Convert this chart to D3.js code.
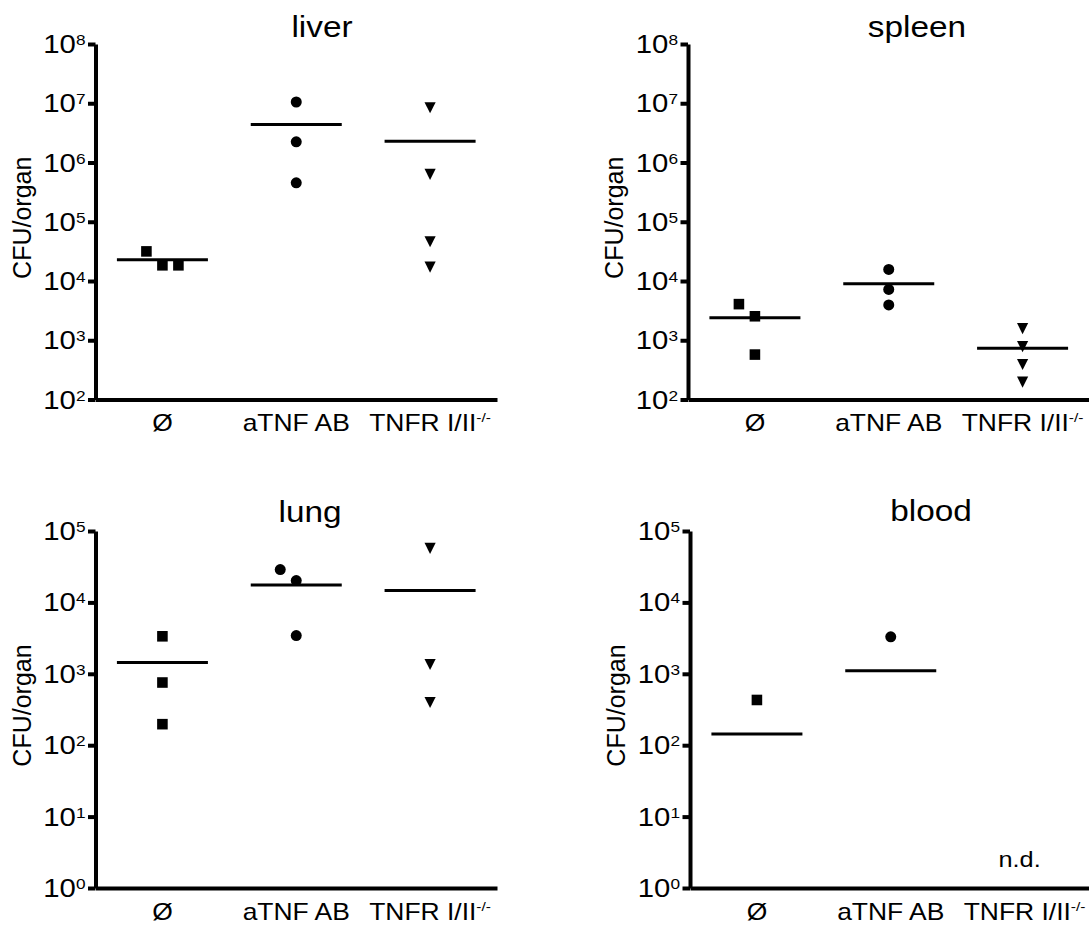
<!DOCTYPE html>
<html lang="en">
<head>
<meta charset="utf-8">
<title>CFU per organ</title>
<script src="https://d3js.org/d3.v7.min.js"></script>
<style>
  body { margin: 0; background: white; }
  svg { display: block; background: white; }
  text { font-family: "Liberation Sans", Arial, sans-serif; fill: black; }
</style>
</head>
<body>
<svg id="chart" width="1089" height="926"></svg>
<script>
// groups on the x axis
const groups = ["Ø", "aTNF AB", "TNFR I/II"];
const groupSup = ["", "", "-/-"];

// CFU per organ, one value per mouse (0 = below detection, counted in mean)
const liverNone    = [1.84e4, 3.16e4, 1.84e4];
const liverAntiTNF = [1.05e7, 2.23e6, 4.54e5];
const liverKO      = [8.4e6, 6.3e5, 4.6e4, 1.72e4];

const spleenNone    = [2.54e3, 4.07e3, 5.73e2];
const spleenAntiTNF = [1.57e4, 3.94e3, 7.2e3];
const spleenKO      = [1.57e3, 7.8e2, 3.9e2, 1.96e2];

const lungNone    = [3.35e3, 7.55e2, 1.97e2];
const lungAntiTNF = [2.02e4, 2.88e4, 3.43e3];
const lungKO      = [5.7e4, 1.35e3, 3.96e2, 0];

const bloodNone    = [4.3e2, 0, 0];
const bloodAntiTNF = [3.3e3, 0, 0];
const bloodKO      = [];   // n.d.

// decade exponents of the y ticks
const decadesTop = [2, 3, 4, 5, 6, 7, 8];
const decadesBottom = [0, 1, 2, 3, 4, 5];

// panel layout
const panels = [
  {title: "liver",  axisX: 95.5, top: 44,  bottom: 399.5, titleX: 322, titleY: 37,  decades: decadesTop,    series: [liverNone, liverAntiTNF, liverKO]},
  {title: "spleen", axisX: 688,  top: 44,  bottom: 399.5, titleX: 917, titleY: 37,  decades: decadesTop,    series: [spleenNone, spleenAntiTNF, spleenKO]},
  {title: "lung",   axisX: 95.5, top: 531, bottom: 888,   titleX: 310, titleY: 522, decades: decadesBottom, series: [lungNone, lungAntiTNF, lungKO]},
  {title: "blood",  axisX: 690,  top: 531, bottom: 888,   titleX: 931, titleY: 521, decades: decadesBottom, series: [bloodNone, bloodAntiTNF, bloodKO]}
];

const plotWidth = 401.5;
const stretch = 1.15;     // text in the figure is set slightly wide
const jitterStep = 16;
const axisStroke = 4;

// downward triangle symbol
const triangleDown = {
  draw(context, size) {
    const s = Math.sqrt(size);
    context.moveTo(-s / 2, -s / 2);
    context.lineTo(s / 2, -s / 2);
    context.lineTo(0, s / 2);
    context.closePath();
  }
};
const symbols = [
  d3.symbol().type(d3.symbolSquare).size(112),
  d3.symbol().type(d3.symbolCircle).size(95),
  d3.symbol().type(triangleDown).size(125)
];

const svg = d3.select("#chart");

// spread points that would overlap: centre, then left, then right
function jitter(values, y) {
  const placed = [];
  const out = [];
  values.forEach(v => {
    if (v <= 0) return;
    const py = y(v);
    for (const s of [0, -1, 1, -2, 2]) {
      if (!placed.some(p => p.s === s && Math.abs(p.py - py) < 15)) {
        placed.push({s: s, py: py});
        out.push({v: v, py: py, s: s});
        break;
      }
    }
  });
  return out;
}

panels.forEach(p => {
  const g = svg.append("g");

  const lo = Math.pow(10, d3.min(p.decades));
  const hi = Math.pow(10, d3.max(p.decades));
  const y = d3.scaleLog().domain([lo, hi]).range([p.bottom, p.top]);
  const x = d3.scaleBand().domain(groups).range([p.axisX, p.axisX + plotWidth]).padding(0);

  // y axis
  const yAxis = g.append("g")
    .attr("transform", `translate(${p.axisX},0)`)
    .call(d3.axisLeft(y)
      .tickValues(p.decades.map(d => Math.pow(10, d)))
      .tickSize(7.5)
      .tickSizeOuter(0)
      .tickFormat(""));
  yAxis.selectAll("path, line").attr("stroke", "black").attr("stroke-width", axisStroke);

  // x axis
  const xAxis = g.append("g")
    .attr("transform", `translate(0,${p.bottom})`)
    .call(d3.axisBottom(x).tickSize(0).tickSizeOuter(0).tickFormat(""));
  xAxis.selectAll("path").attr("stroke", "black").attr("stroke-width", axisStroke);
  xAxis.selectAll("line").remove();

  // y tick labels 10^n
  const tl = g.selectAll("text.ytick")
    .data(p.decades)
    .join("text")
    .attr("class", "ytick")
    .attr("text-anchor", "end")
    .attr("transform", d => `translate(${p.axisX - 10},${y(Math.pow(10, d)) + 9}) scale(${stretch},1)`)
    .style("font-size", "25.5px");
  tl.append("tspan").text("10");
  tl.append("tspan").attr("dy", -8).style("font-size", "15px").text(d => d);

  // category labels
  const cl = g.selectAll("text.xcat")
    .data(groups)
    .join("text")
    .attr("class", "xcat")
    .attr("text-anchor", "middle")
    .attr("transform", d => `translate(${x(d) + x.bandwidth() / 2},${p.bottom + 31.5}) scale(${stretch},1)`)
    .style("font-size", "23px");
  cl.append("tspan").text(d => d);
  cl.append("tspan").attr("dy", -9).style("font-size", "13.5px").text((d, i) => groupSup[i]);

  // title
  g.append("text")
    .attr("text-anchor", "middle")
    .attr("transform", `translate(${p.titleX},${p.titleY}) scale(${stretch},1)`)
    .style("font-size", "29px")
    .text(p.title);

  // y axis title
  g.append("text")
    .attr("text-anchor", "middle")
    .attr("transform", `translate(${p.axisX - 65},${(p.top + p.bottom) / 2 - 4}) rotate(-90)`)
    .style("font-size", "25px")
    .text("CFU/organ");

  // points and mean lines
  p.series.forEach((vals, i) => {
    const cx = x(groups[i]) + x.bandwidth() / 2;
    if (vals.length === 0) {
      g.append("text")
        .attr("text-anchor", "middle")
        .attr("transform", `translate(${cx - 5},${p.bottom - 21}) scale(${stretch},1)`)
        .style("font-size", "22px")
        .text("n.d.");
      return;
    }
    const m = d3.mean(vals);
    const half = x.bandwidth() * 0.34;
    g.append("line")
      .attr("x1", cx - half).attr("x2", cx + half)
      .attr("y1", y(m)).attr("y2", y(m))
      .attr("stroke", "black").attr("stroke-width", 3);

    g.selectAll(null)
      .data(jitter(vals, y))
      .join("path")
      .attr("d", symbols[i])
      .attr("transform", d => `translate(${cx + d.s * jitterStep},${d.py})`)
      .attr("fill", "black");
  });
});
</script>
</body>
</html>
